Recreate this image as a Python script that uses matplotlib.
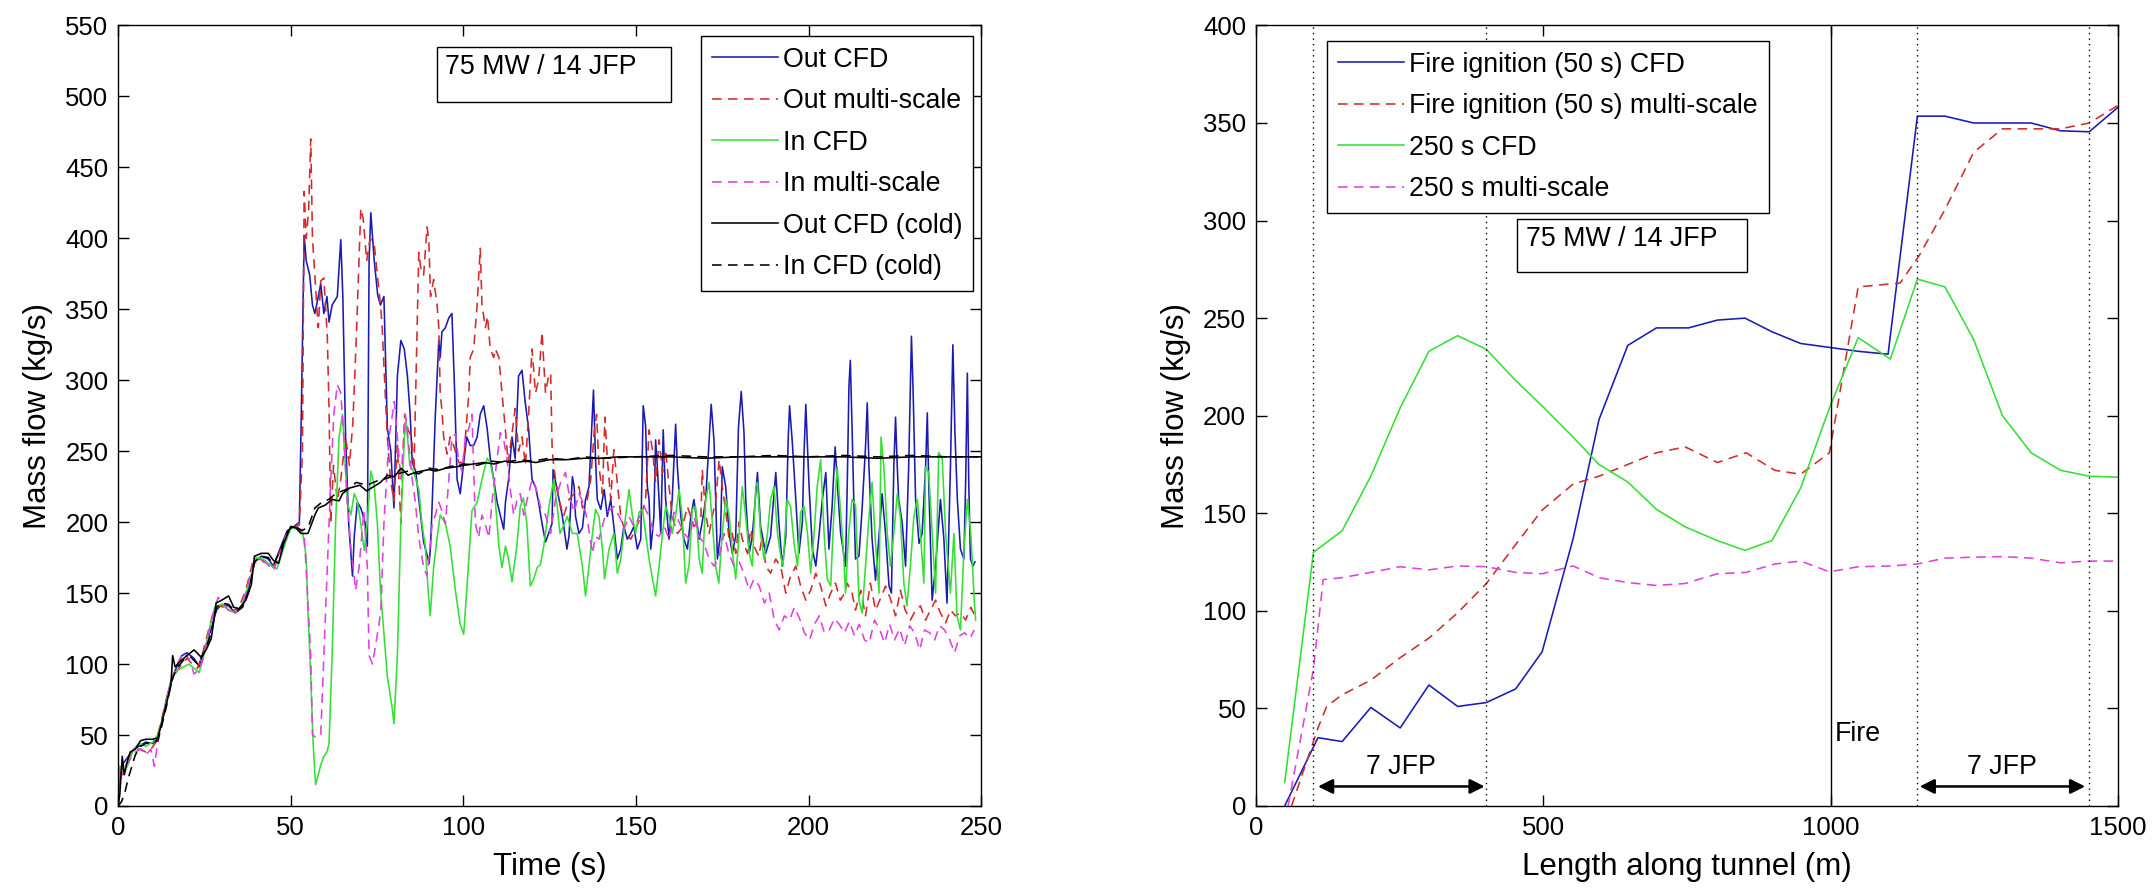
import matplotlib
matplotlib.use("Agg")
import matplotlib.pyplot as plt
from matplotlib.patches import Rectangle

plt.rcParams['font.family'] = ['Liberation Sans', 'DejaVu Sans']

# ---------------- LEFT PANEL DATA (time series) ----------------
out_cfd_t = [0, 0.5, 1.5, 3, 4.5, 6, 8, 10, 11, 12.5, 14, 15.5, 17, 18.5, 20, 22, 23.5, 25, 27, 28.5, 30, 32, 34, 36, 38, 39.5, 41.5, 43.5, 45, 47, 49, 51, 52.5,
             53, 53.9, 54.5, 55.5, 56.3, 57, 58, 58.7, 59.6, 60.5, 61.1, 62, 63.5, 64.5, 65.1, 65.9, 66.8, 67.9, 68.4, 69.3, 70.3, 71.5, 72.2, 72.7, 73.2, 74.2, 75.2, 76, 77, 78, 79, 79.9,
             80.9, 81.9, 82.9, 83.8, 84.6, 85.2, 86.2, 87.5, 88.5, 89.5, 90.1, 90.5, 91, 91.9, 92.9, 93.3, 93.8, 94.8, 95.8, 96.7, 97.5, 98.2, 99.1, 100.1, 101, 102, 103, 104, 104.9,
             105.9, 106.9, 107.8, 108.8, 109.8, 110.7, 111.7, 112.2, 113.1, 114.1, 115, 116, 117, 117.9, 118.9, 119.9, 120.9, 121.8, 122.8, 123.8, 124.7, 125.7,
             126, 127, 128.7, 130, 130.6, 131.6, 132.1, 132.5, 133.5, 134.5, 135.4, 136.4, 136.9, 137.7, 138.3, 138.8, 139.8, 140.8, 141.7, 142.7, 143.6, 144.6, 145.6, 146.5,
             147.5, 148.5, 149.4, 150.4, 151.4, 152.1, 152.8, 153.3, 153.8, 154.3, 155.2, 155.7, 156.2, 157.2, 157.9, 158.6, 159.6, 160.5, 161.5, 162, 163, 163.9, 164.9, 165.9,
             166.8, 167.8, 168.3, 169.2, 170.2, 171.2, 171.8, 172.6, 173.1, 173.6, 174.5, 175, 176, 177, 177.9, 178.9, 179.7, 180.5, 181.3, 181.8, 182.8, 183.7, 185.2, 186.1,
             187.6, 189, 190.5, 191.4, 192.4, 193.4, 194.1, 194.5, 195.3, 196.3, 197.2, 198.2, 198.7, 199.2, 200.1, 201.1, 202.1, 203, 204, 205, 205.9, 206.8, 207.7, 208.4,
             209.3, 210.7, 211.2, 211.7, 212.1, 212.6, 213.1, 213.6, 214.6, 215.5, 216.5, 217, 217.5, 218.4, 219.4, 220.4, 221.3, 222.3, 223.3, 224, 224.7, 225.2, 225.7, 226.1,
             227.1, 228.1, 229, 229.8, 230.3, 231, 232, 232.9, 233.9, 234.4, 234.8, 235.8, 236.8, 238.2, 239.2, 240.1, 241.1, 241.8, 242.4, 243.1, 244, 245, 245.5, 246,
             246.4, 246.9, 247.6, 248.2]
out_cfd_v = [5, 25, 30, 35, 40, 42, 45, 44, 46, 58, 75, 90, 98, 106, 108, 104, 98, 110, 125, 138, 142, 141, 136, 140, 155, 172, 176, 174, 169, 182, 194, 197, 200,
             266, 402, 384, 374, 353, 347, 359, 368, 347, 359, 341, 353, 359, 399, 359, 260, 199, 162, 190, 214, 210, 200, 183, 384, 418, 384, 360, 353, 359, 266, 250, 210,
             303, 328, 322, 303, 276, 242, 236, 208, 186, 177, 171, 183, 214, 276, 328, 316, 334, 337, 344, 347, 291, 230, 220, 242, 260, 254, 254, 260, 276,
             282, 266, 245, 230, 214, 205, 195, 214, 230, 260, 245, 303, 307, 285, 266, 230, 225, 214, 199, 186, 192, 199,
             237, 225, 204, 181, 190, 232, 225, 204, 192, 196, 216, 225, 251, 293, 244, 216, 209, 223, 204, 216, 197, 174, 181, 197,
             188, 192, 197, 181, 188, 282, 268, 225, 216, 181, 204, 258, 239, 192, 265, 216, 188, 216, 269, 239, 204, 188, 181, 204,
             216, 197, 188, 200, 216, 258, 283, 258, 216, 174, 192, 239, 225, 192, 178, 190, 267, 292, 263, 216, 178, 190, 235, 197,
             178, 190, 235, 200, 169, 190, 258, 282, 256, 216, 178, 200, 249, 283, 228, 181, 169, 190, 216, 235, 181, 210, 253, 225,
             192, 169, 225, 296, 314, 267, 216, 174, 176, 209, 253, 284, 239, 188, 159, 190, 220, 192, 155, 150, 239, 274, 239, 216,
             200, 169, 239, 331, 291, 216, 185, 192, 239, 277, 228, 145, 169, 216, 188, 143, 239, 325, 263, 216, 181, 174, 228, 305,
             228, 174, 169, 172]

out_ms_t = [0.5, 2, 3.5, 5, 6.5, 8, 9.5, 11, 12.5, 14, 15.5, 17, 18.5, 20, 21.5, 23, 24.5, 26, 27.5, 29, 31, 33, 35, 37, 39, 41, 43, 45, 47, 49, 51, 52.5,
            53.4, 53.9, 54.5, 55.2, 55.8, 56.3, 57, 57.6, 58, 58.7, 59.6, 60.6, 61.1, 61.6, 62.4, 63.5, 64.5, 65.9, 67, 68, 69, 70.3, 71, 72, 73, 74.2, 75.1, 76, 76.5, 77.2,
            78, 78.9, 79.9, 80.9, 81.9, 83, 84, 85, 85.7, 86.6, 87.1, 87.6, 88.5, 89.5, 90, 90.5, 91.4, 92.4, 92.9, 93.3, 93.8, 94.3, 95.3, 96.2, 97.2, 98.7, 100.1, 100.6,
            101.6, 102, 103, 104, 104.9, 105.4, 106.4, 107, 107.8, 108.8, 109.3, 110.3, 111.2, 112, 113, 114, 115, 116, 117, 118, 119, 119.9, 120.9, 121.8, 122.8, 123.8,
            124.7, 125.3, 125.7, 126, 126.7, 127.7, 129, 130.6, 132.1, 133.5, 134.5, 135.9, 136.9, 137.9, 138.6, 139.3, 140.3, 141, 141.7, 142.7, 143.6, 144.6, 145.6, 147,
            148.5, 149.9, 151.4, 152.8, 153.8, 154.8, 155.7, 156.7, 157.7, 158.6, 159.6, 160.5, 162, 163.4, 164.9, 166.8, 168.8, 169.2, 170.2, 171.2, 172.1, 173.1, 174.1, 175,
            176, 177, 177.9, 178.9, 179.9, 180.8, 182.3, 183.3, 184.2, 185.6, 186.6, 187.6, 189, 190.5, 192, 193.4, 194.8, 196.3, 197.7, 199.2, 200.6, 202.1, 203.5, 205,
            206.4, 207.8, 209.2, 210.5, 211.2, 212.6, 213.6, 215.1, 216.5, 217.9, 219.4, 220.8, 222.3, 223.7, 225.2, 226.6, 228, 229.5, 231, 232.4, 233.9, 235.3, 236.8, 238.2,
            239.7, 241.1, 242.6, 244, 245.5, 247, 248]
out_ms_v = [22, 30, 36, 40, 40, 38, 40, 45, 60, 75, 88, 95, 100, 104, 100, 97, 108, 122, 136, 141, 140, 137, 140, 152, 172, 174, 172, 168, 180, 193, 196, 198,
            250, 433, 400, 420, 470, 400, 374, 350, 337, 370, 372, 331, 280, 199, 240, 215, 230, 260, 240, 270, 330, 421, 414, 384, 400, 396, 374, 353, 337, 300,
            260, 230, 215, 254, 199, 276, 265, 260, 236, 337, 390, 380, 374, 408, 399, 359, 371, 353, 337, 291, 279, 260, 248, 260, 254, 242, 242, 260,
            291, 316, 322, 353, 393, 353, 337, 345, 322, 316, 322, 316, 291, 270, 242, 260, 280, 250, 260, 240, 280, 322, 291, 300, 334, 291,
            303, 305, 254, 244, 230, 216, 204, 216, 220, 225, 210, 216, 230, 263, 276, 239, 220, 274, 245, 216, 251, 228, 204, 192,
            188, 195, 204, 216, 265, 251, 228, 258, 235, 251, 225, 204, 192, 196, 211, 197, 202, 237, 206, 192, 204, 215, 244, 225,
            208, 188, 192, 178, 200, 188, 178, 195, 183, 176, 190, 169, 164, 174, 168, 150, 162, 169, 155, 145, 152, 164, 155, 141,
            150, 157, 145, 150, 157, 150, 138, 152, 134, 157, 138, 146, 155, 146, 134, 152, 138, 131, 138, 141, 131, 138, 145, 136,
            129, 138, 134, 136, 131, 140, 135]

in_cfd_t = [0, 0.5, 1.5, 3, 4.5, 6, 8, 10, 11.5, 13, 14.5, 16, 17.5, 19, 20.5, 22, 23.5, 25, 26.5, 28, 30, 32, 34, 36, 38, 40, 42, 44, 46, 48, 50, 52, 53.5,
            54.5, 55, 55.8, 56.5, 57.2, 58, 58.7, 59.6, 60.5, 61.1, 62, 63, 64, 65, 65.5, 66.4, 67.4, 68.4, 69.3, 70.3, 71.3, 72.2, 73.2, 74.2, 75.1, 76, 77, 78, 79.4, 79.9,
            80.9, 81.9, 82.9, 83.5, 84.5, 85.5, 87.1, 88, 89, 89.8, 90.4, 91.4, 92.4, 93.3, 94.8, 96.2, 97.7, 99.1, 100.1, 101, 102.5, 104, 105.4, 106.9, 107.8, 108.8,
            110.3, 111.2, 112.2, 113.1, 114.1, 115.5, 116.5, 117.4, 118.4, 119.4, 120.4, 121.4, 122.3, 123.3, 124.8, 126.2, 126.5, 127.2, 128, 129.5, 130.1, 131.6, 133,
            134.5, 135.4, 136.4, 137.4, 138.3, 139.3, 140.3, 140.9, 142.2, 143.6, 144.6, 145.6, 147, 148, 149, 149.9, 150.9, 151.9, 152.8, 153.8, 154.8, 155.7, 156.7,
            157.7, 158.6, 159.6, 160.5, 161.5, 162.5, 163.4, 164.4, 165.4, 166.3, 167.3, 168.3, 169.2, 170.2, 171.2, 172.1, 173.1, 174, 175, 176, 177, 177.9, 178.9,
            179.9, 180.8, 181.8, 182.8, 183.7, 184.7, 185.2, 186.1, 187.1, 188.1, 189, 190, 191, 192, 192.6, 193.8, 194.8, 195.8, 196.8, 197.7, 198.7, 199.7, 200.6,
            201.6, 202.5, 203.5, 204.5, 205.4, 206.4, 207.3, 208.3, 209.2, 210.2, 210.7, 211.6, 212.6, 213.6, 214.6, 215.5, 216.5, 217.5, 218.4, 219.4, 220.4, 221,
            221.8, 222.8, 223.7, 224.7, 225.7, 226.6, 227.6, 228.5, 229.5, 230.5, 231.5, 232.4, 233.4, 233.9, 234.8, 235.8, 236.8, 237.7, 238.7, 239.7, 241.1, 242.1,
            243, 244, 245, 246, 247, 248, 248.4]
in_cfd_v = [10, 28, 22, 30, 40, 44, 42, 45, 50, 62, 78, 92, 96, 98, 100, 97, 94, 108, 125, 140, 142, 138, 136, 142, 158, 175, 174, 170, 167, 182, 196, 195, 192,
            175, 137, 91, 44, 15, 22, 29, 35, 38, 44, 106, 199, 260, 276, 254, 214, 205, 220, 215, 199, 180, 200, 236, 226, 199, 152, 121, 91, 69, 58,
            106, 199, 260, 270, 240, 236, 223, 199, 183, 152, 134, 168, 189, 205, 199, 183, 152, 128, 121, 152, 208, 214, 230, 245, 242, 230,
            183, 168, 183, 174, 158, 183, 211, 217, 199, 155, 160, 168, 170, 183, 211, 230, 223, 211, 192, 200, 204, 192, 192,
            169, 148, 169, 192, 209, 204, 181, 160, 181, 192, 164, 174, 204, 223, 204, 192, 207, 209, 192, 174, 160, 148, 169,
            192, 211, 204, 192, 205, 223, 204, 157, 170, 209, 211, 174, 164, 216, 228, 200, 169, 157, 192, 216, 205, 180, 160,
            192, 225, 204, 178, 169, 225, 228, 192, 174, 192, 216, 225, 192, 175, 169, 216, 211, 185, 169, 207, 211, 192, 164,
            192, 225, 244, 192, 160, 155, 204, 239, 210, 175, 150, 192, 216, 212, 145, 136, 169, 204, 228, 185, 150, 260,
            239, 192, 169, 192, 220, 204, 157, 141, 169, 204, 216, 192, 157, 239, 235, 192, 150, 249, 245, 192, 150, 192,
            134, 124, 180, 216, 192, 145, 131]

in_ms_t = [0.5, 2, 3.5, 5, 6.5, 8, 9.5, 10.5, 11.5, 13, 14.5, 16, 17.5, 19, 20.5, 22, 23.5, 25, 26.5, 28, 29, 31, 33, 35, 37, 39, 41, 43, 45, 47, 49, 51, 53,
           53.9, 54.8, 55.8, 56.3, 57.5, 58.7, 59.6, 60.6, 61.6, 62.5, 63.5, 64.5, 65.4, 66.4, 67.4, 68.8, 69.8, 71.2, 72.2, 72.7, 73.7, 75.1, 76.1, 77, 78.5, 80,
           80.9, 81.9, 83.2, 84.2, 85.2, 86.1, 87.1, 88.5, 89.5, 91, 91.9, 92.9, 93.8, 94.8, 95.8, 96.7, 97.7, 98.7, 99.6, 100.6, 101.6, 102.5, 103.5, 104.4, 105.4,
           106.4, 107.4, 108.3, 109.3, 110.7, 111.7, 112.6, 113.6, 114.6, 115.5, 116.5, 117.5, 118.4, 119.9, 121.3, 122.3, 123.8, 125.3, 126.7, 128.2, 129.6, 130.6,
           132.1, 133.5, 134.5, 135.9, 137.4, 138.3, 139.3, 140.8, 141.7, 143.6, 145.6, 146.5, 148, 149.4, 150.9, 152.4, 153.8, 155.2, 156.7, 158.2, 159.6, 161,
           162.5, 164, 165.4, 166.8, 168.3, 169.7, 171.2, 172.6, 174, 175.5, 176.9, 178.4, 179.9, 181.3, 182.8, 184.2, 185.7, 187.2, 188.6, 190.1, 191.5, 193,
           194.5, 195.9, 197.4, 198.8, 200.3, 201.7, 203.1, 204.6, 206, 207.5, 208.9, 210.4, 211.8, 213.3, 214.7, 216.2, 217.6, 219.1, 220.5, 222, 223.5, 224.9,
           226.4, 227.8, 229.3, 230.7, 232.2, 233.6, 235.1, 236.5, 238, 239.4, 240.9, 242.3, 243.8, 245.2, 246.7, 248]
in_ms_v = [18, 28, 33, 38, 40, 36, 40, 28, 45, 62, 80, 92, 102, 108, 104, 93, 96, 106, 125, 140, 147, 141, 135, 138, 150, 170, 173, 171, 166, 178, 192, 196, 195,
           192, 152, 106, 50, 48, 50, 106, 168, 230, 276, 297, 291, 260, 214, 183, 152, 168, 208, 168, 106, 100, 121, 137, 199, 260, 285,
           260, 230, 276, 254, 230, 214, 189, 168, 162, 199, 205, 214, 208, 199, 230, 260, 262, 242, 236, 260, 266, 276, 199, 189, 205,
           198, 189, 214, 235, 263, 258, 245, 223, 205, 215, 220, 205, 215, 230, 222, 211, 205, 192, 216, 228, 235, 220,
           207, 220, 215, 202, 178, 190, 188, 202, 207, 211, 202, 195, 204, 197, 203, 211, 204, 192, 190, 197, 188, 207,
           200, 192, 188, 204, 190, 185, 174, 169, 175, 192, 178, 169, 172, 164, 152, 160, 155, 143, 150, 131, 124, 134,
           131, 140, 132, 122, 117, 128, 134, 122, 124, 132, 128, 122, 130, 120, 128, 117, 115, 131, 125, 115, 128, 117,
           125, 113, 127, 122, 110, 124, 122, 117, 127, 124, 117, 108, 120, 122, 118, 124]

out_cold_t = [0, 0.5, 1.2, 1.8, 2.5, 3.5, 5, 6.5, 8, 10, 11.5, 12.5, 14, 15.3, 15.8, 16.5, 18, 20, 22, 24, 25.5, 27, 28.4, 30, 32, 33.5, 35, 37, 38.6, 39.5,
              41.5, 43.5, 45, 46.5, 48, 50, 51.5, 53, 55, 57, 58, 60, 62, 64, 65, 67, 70, 72, 74, 76, 78, 80, 82, 84, 86, 88, 90, 92, 95, 98, 100, 103, 106,
              109, 112, 115, 118, 121, 125, 130, 135, 140, 145, 150, 160, 170, 180, 190, 200, 210, 220, 230, 240, 250]
out_cold_v = [0, 8, 35, 22, 30, 38, 40, 46, 47, 47, 48, 57, 72, 85, 106, 98, 102, 106, 110, 105, 110, 118, 143, 145, 148, 140, 139, 145, 156, 176,
              178, 178, 173, 171, 185, 197, 196, 192, 192, 205, 210, 212, 216, 215, 220, 224, 226, 222, 225, 228, 233, 232, 238, 233, 235, 236, 237, 236, 238, 239, 240, 241, 242,
              241, 243, 242, 243, 242, 244, 244, 245, 245, 246, 246, 246, 245, 246, 246, 246, 246, 245, 246, 246, 246]

in_cold_t = [0, 1, 2, 3, 4, 5, 6.5, 8, 10, 11.5, 12.5, 14, 15.5, 17, 19, 21, 23, 25, 27, 28.5, 30, 32, 34, 36, 38, 39.5, 41.5, 43.5, 45, 47, 49, 51, 53,
             55, 57, 59, 61, 63, 65, 67, 69, 72, 75, 78, 81, 84, 87, 90, 93, 96, 100, 104, 108, 112, 116, 120, 125, 130, 135, 140, 150, 160, 170, 180, 190,
             200, 210, 220, 230, 240, 250]
in_cold_v = [0, 3, 10, 20, 28, 36, 42, 44, 45, 46, 55, 70, 88, 97, 103, 105, 100, 108, 122, 140, 143, 142, 137, 140, 152, 172, 176, 175, 170, 180, 193, 198, 194,
             196, 210, 214, 216, 220, 222, 224, 228, 226, 229, 231, 234, 236, 234, 238, 237, 239, 241, 240, 243, 242, 244, 243, 245, 244, 246, 245, 246, 247, 246, 246, 247,
             246, 247, 246, 247, 246, 246]

left_labels = ['Out CFD', 'Out multi-scale', 'In CFD', 'In multi-scale', 'Out CFD (cold)', 'In CFD (cold)']

# ---------------- RIGHT PANEL DATA (profiles along tunnel) ----------------
ign_cfd_x = [50, 108, 150, 200, 251, 301, 351, 401, 452, 498, 552, 597, 647, 697, 753, 803, 851, 898, 948, 998, 1048, 1100, 1151, 1199, 1249, 1299, 1349, 1400, 1450, 1500]
ign_cfd_v = [0, 35, 33, 50.5, 40, 62, 51, 53, 60, 79, 137, 198, 236, 245, 245, 249, 250, 243, 237, 235, 233, 231.5, 353.5, 353.5, 350, 350, 350, 346, 345.5, 358]

ign_ms_x = [62, 108, 123, 150, 200, 251, 301, 351, 401, 452, 498, 552, 597, 647, 697, 747, 803, 853, 903, 948, 998, 1048, 1121, 1154, 1199, 1249, 1299, 1349, 1400, 1450, 1500]
ign_ms_v = [0, 40, 51, 57, 64.5, 76, 86, 99, 114, 134, 151.6, 165, 169, 175, 181, 184, 176, 181, 172, 170, 181, 266, 268, 282, 305.6, 335, 347, 347, 347, 350, 359]

t250_cfd_x = [50, 100, 150, 200, 251, 301, 351, 401, 452, 498, 552, 597, 647, 697, 747, 803, 851, 898, 948, 998, 1048, 1104, 1151, 1199, 1249, 1299, 1349, 1400, 1450, 1500]
t250_cfd_v = [12, 130, 141, 169, 204, 233, 241, 234, 218, 205, 189, 175, 166, 152, 143, 136, 131, 136, 163, 204, 240, 229, 270, 266, 239, 200, 181, 172, 169, 168.5]

t250_ms_x = [56, 100, 117, 150, 200, 251, 301, 351, 401, 452, 498, 552, 597, 647, 697, 747, 803, 853, 903, 948, 998, 1048, 1104, 1151, 1199, 1249, 1299, 1349, 1400, 1450, 1500]
t250_ms_v = [0, 70, 116, 117, 119.7, 122.6, 121, 123, 122.6, 119.7, 119, 123, 117, 114.5, 113, 114, 119, 119.7, 124, 125.5, 120, 122.6, 123, 124, 127, 127.5, 127.8, 127, 124.6, 125.5, 125.5]

right_labels = ['Fire ignition (50 s) CFD', 'Fire ignition (50 s) multi-scale', '250 s CFD', '250 s multi-scale']

jfp_dotted_x = [100, 400, 1150, 1450]
fire_x = 1000
jfp_spans = [(108, 398), (1155, 1443)]

# ---------------- STYLE ----------------
C_BLUE = '#1a1ab4'
C_RED = '#d42a2a'
C_GREEN = '#33e033'
C_MAG = '#e040e0'
C_BLK = '#000000'
LW = 1.15
DASH = (0, (6, 4))
FS_TICK = 18.5
FS_LAB = 22.5
FS_LEG = 19.3

fig = plt.figure(figsize=(21.55, 8.89), dpi=100)
axL = fig.add_axes([0.0548, 0.0934, 0.4005, 0.878])
axR = fig.add_axes([0.5828, 0.0934, 0.400, 0.878])


def style_axes(ax):
    ax.tick_params(direction='in', length=8, width=1.0, top=True, right=True,
                   labelsize=FS_TICK, pad=7)
    for s in ax.spines.values():
        s.set_linewidth(1.0)


leg_kw = dict(fontsize=FS_LEG, frameon=True, fancybox=False, edgecolor='black',
              framealpha=1, handlelength=2.45, handletextpad=0.2, labelspacing=0.58,
              borderpad=0.4, borderaxespad=0)

# LEFT
axL.plot(out_cfd_t, out_cfd_v, color=C_BLUE, lw=LW, label=left_labels[0])
axL.plot(out_ms_t, out_ms_v, color=C_RED, lw=LW, ls=DASH, label=left_labels[1])
axL.plot(in_cfd_t, in_cfd_v, color=C_GREEN, lw=LW, label=left_labels[2])
axL.plot(in_ms_t, in_ms_v, color=C_MAG, lw=LW, ls=DASH, label=left_labels[3])
axL.plot(out_cold_t, out_cold_v, color=C_BLK, lw=LW, label=left_labels[4])
axL.plot(in_cold_t, in_cold_v, color=C_BLK, lw=LW, ls=DASH, label=left_labels[5])
axL.set_xlim(0, 250)
axL.set_ylim(0, 550)
axL.set_xticks(range(0, 251, 50))
axL.set_yticks(range(0, 551, 50))
axL.set_xlabel('Time (s)', fontsize=FS_LAB, labelpad=9)
axL.set_ylabel('Mass flow (kg/s)', fontsize=FS_LAB, labelpad=9)
style_axes(axL)
legL = axL.legend(loc='upper right', bbox_to_anchor=(0.9907, 0.9865), **leg_kw)
legL.get_frame().set_linewidth(1.0)
axL.add_patch(Rectangle((0.369, 0.902), 0.272, 0.071, transform=axL.transAxes,
                        fill=False, edgecolor='black', lw=1.0, zorder=5))
axL.text(0.379, 0.947, '75 MW / 14 JFP', transform=axL.transAxes,
         fontsize=FS_LEG, va='center', ha='left', zorder=6)

# RIGHT
axR.plot(ign_cfd_x, ign_cfd_v, color=C_BLUE, lw=LW, label=right_labels[0])
axR.plot(ign_ms_x, ign_ms_v, color=C_RED, lw=LW, ls=DASH, label=right_labels[1])
axR.plot(t250_cfd_x, t250_cfd_v, color=C_GREEN, lw=LW, label=right_labels[2])
axR.plot(t250_ms_x, t250_ms_v, color=C_MAG, lw=LW, ls=DASH, label=right_labels[3])
for xv in jfp_dotted_x:
    axR.axvline(xv, color='black', lw=1.0, ls=(0, (1, 3)))
axR.axvline(fire_x, color='black', lw=1.0)
axR.set_xlim(0, 1500)
axR.set_ylim(0, 400)
axR.set_xticks([0, 500, 1000, 1500])
axR.set_yticks(range(0, 401, 50))
axR.set_xlabel('Length along tunnel (m)', fontsize=FS_LAB, labelpad=9)
axR.set_ylabel('Mass flow (kg/s)', fontsize=FS_LAB, labelpad=9)
style_axes(axR)
legR = axR.legend(loc='upper left', bbox_to_anchor=(0.083, 0.98), **leg_kw)
legR.get_frame().set_linewidth(1.0)
axR.add_patch(Rectangle((0.303, 0.684), 0.267, 0.0685, transform=axR.transAxes,
                        fill=False, edgecolor='black', lw=1.0, zorder=5))
axR.text(0.313, 0.727, '75 MW / 14 JFP', transform=axR.transAxes,
         fontsize=FS_LEG, va='center', ha='left', zorder=6)

for (x0, x1) in jfp_spans:
    axR.annotate('', xy=(x0, 10), xytext=(x1, 10),
                 arrowprops=dict(arrowstyle='<|-|>', color='black', lw=1.8,
                                 mutation_scale=22, shrinkA=0, shrinkB=0))
    axR.text((x0 + x1) / 2, 20, '7 JFP', fontsize=FS_LEG, ha='center', va='center')
axR.text(fire_x + 8, 37, 'Fire', fontsize=FS_LEG, ha='left', va='center')

fig.savefig('out.png', dpi=100)
